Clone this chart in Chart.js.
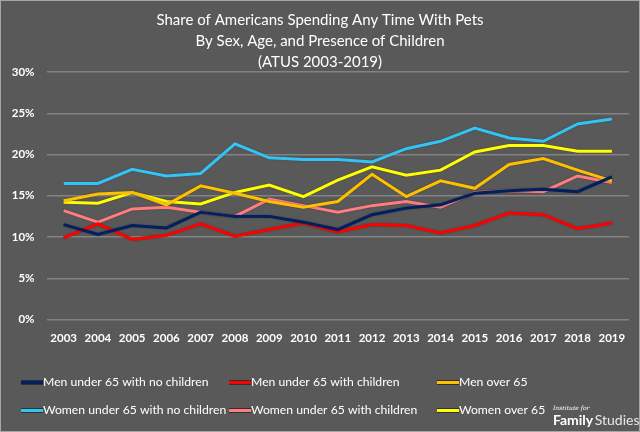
<!DOCTYPE html>
<html>
<head>
<meta charset="utf-8">
<script src="https://cdn.jsdelivr.net/npm/chart.js@4.4.1/dist/chart.umd.min.js"></script>
<style>
  html, body { margin: 0; padding: 0; background: #595959; }
  #wrap { width: 640px; height: 432px; position: relative; }
</style>
</head>
<body>
<div id="wrap"><canvas id="graph_ID" width="640" height="432"></canvas></div>
<script>
    var years = ['2003','2004','2005','2006','2007','2008','2009','2010','2011','2012','2013','2014','2015','2016','2017','2018','2019'];

    var menNoKids    = [11.5, 10.3, 11.4, 11.1, 13.0, 12.5, 12.5, 11.8, 10.9, 12.7, 13.5, 13.9, 15.3, 15.6, 15.8, 15.5, 17.3];
    var menKids      = [9.9, 11.6, 9.7, 10.2, 11.6, 10.1, 10.9, 11.7, 10.6, 11.5, 11.4, 10.5, 11.4, 12.9, 12.7, 11.0, 11.7];
    var menOver65    = [14.4, 15.2, 15.4, 13.9, 16.2, 15.3, 14.3, 13.6, 14.3, 17.6, 14.9, 16.8, 15.9, 18.8, 19.5, 18.1, 16.8];
    var womenNoKids  = [16.5, 16.5, 18.2, 17.4, 17.7, 21.3, 19.6, 19.4, 19.4, 19.1, 20.7, 21.6, 23.2, 22.0, 21.6, 23.7, 24.3];
    var womenKids    = [13.2, 11.8, 13.4, 13.6, 13.0, 12.5, 14.6, 13.8, 13.0, 13.8, 14.3, 13.6, 15.4, 15.6, 15.5, 17.4, 16.6];
    var womenOver65  = [14.2, 14.1, 15.4, 14.3, 14.0, 15.4, 16.3, 14.9, 16.9, 18.5, 17.5, 18.1, 20.3, 21.1, 21.1, 20.4, 20.4];

    var seriesNames = ['Men under 65 with no children', 'Men under 65 with children', 'Men over 65',
                       'Women under 65 with no children', 'Women under 65 with children', 'Women over 65'];
    var yTicks = [0, 5, 10, 15, 20, 25, 30];
    var titleLines = ['Share of Americans Spending Any Time With Pets', 'By Sex, Age, and Presence of Children', '(ATUS 2003-2019)'];

    var FONT = 'Lato, "Open Sans", sans-serif';

    function getLine(label, data, color)
    {
        return {
            label: label,
            data: data,
            borderColor: color,
            backgroundColor: color,
            borderWidth: 3,
            pointRadius: 0,
            tension: 0,
            fill: false
        };
    }

    // title, frame, 2-row legend and logo drawn by hand
    var decor = {
        id: 'decor',
        beforeDraw: function (chart) {
            var c = chart.ctx;
            c.save();
            c.fillStyle = '#595959';
            c.fillRect(0, 0, chart.width, chart.height);
            c.restore();
        },
        beforeDatasetsDraw: function (chart) {
            chart.ctx.save();
            chart.ctx.shadowColor = 'rgba(0,0,0,0.35)';
            chart.ctx.shadowBlur = 1.5;
        },
        afterDatasetsDraw: function (chart) {
            chart.ctx.restore();
        },
        afterDraw: function (chart) {
            var c = chart.ctx;
            c.save();
            c.strokeStyle = '#a6a6a6';
            c.lineWidth = 1;
            c.strokeRect(0.5, 0.5, chart.width - 1, chart.height - 1);

            c.fillStyle = '#ffffff';
            c.textAlign = 'center';
            c.textBaseline = 'middle';
            c.font = '15px ' + FONT;
            titleLines.forEach(function (t, i) {
                c.fillText(t, 320, 20.5 + i * 20.7);
            });

            var cols = [21, 229, 437];
            var rows = [382.5, 410.5];
            c.font = '12.2px ' + FONT;
            c.textAlign = 'left';
            chart.data.datasets.forEach(function (ds, i) {
                var x = cols[i % 3], y = rows[Math.floor(i / 3)];
                c.strokeStyle = 'rgba(0,0,0,0.45)';
                c.lineWidth = 5;
                c.beginPath(); c.moveTo(x, y); c.lineTo(x + 22, y); c.stroke();
                c.strokeStyle = ds.borderColor;
                c.lineWidth = 3;
                c.beginPath(); c.moveTo(x, y); c.lineTo(x + 22, y); c.stroke();
                c.fillStyle = '#ffffff';
                c.fillText(ds.label, x + 22, y);
            });

            // logo
            c.font = 'italic 6px "DejaVu Serif", serif';
            c.fillText('Institute for', 553, 408);
            c.font = 'bold 14px ' + FONT;
            c.fillText('Family', 553, 420);
            var w = c.measureText('Family').width;
            c.font = '14px ' + FONT;
            c.fillStyle = '#e8e8e8';
            c.fillText('Studies', 553 + w + 1.5, 420);
            c.restore();
        }
    };

    var ctx = document.getElementById('graph_ID').getContext('2d');
    var graphique = new Chart(ctx, {
        type: 'line',
        data: {
            labels: years,
            datasets: [
                getLine(seriesNames[0], menNoKids, '#002060'),
                getLine(seriesNames[1], menKids, '#ff0000'),
                getLine(seriesNames[2], menOver65, '#ffc000'),
                getLine(seriesNames[3], womenNoKids, '#33c4f5'),
                getLine(seriesNames[4], womenKids, '#ff7c80'),
                getLine(seriesNames[5], womenOver65, '#ffff00')
            ]
        },
        options: {
            responsive: false,
            animation: false,
            layout: { padding: { top: 72, right: 11, bottom: 0, left: 0 } },
            plugins: {
                legend: { display: false },
                title: { display: false },
                tooltip: { enabled: false }
            },
            scales: {
                x: {
                    offset: true,
                    grid: { display: false },
                    border: { display: false },
                    ticks: { color: '#ffffff', font: { family: FONT, size: 11.5, weight: 'bold' }, maxRotation: 0, autoSkip: false, padding: 4 },
                    afterFit: function (scale) { scale.height = 112.5; }
                },
                y: {
                    min: 0,
                    max: 30,
                    afterBuildTicks: function (scale) {
                        scale.ticks = yTicks.map(function (v) { return { value: v }; });
                    },
                    grid: { color: '#838383', lineWidth: 1.5, drawTicks: false },
                    border: { display: false },
                    ticks: {
                        color: '#ffffff',
                        font: { family: FONT, size: 11.5, weight: 'bold' },
                        padding: 12,
                        callback: function (v) { return v + '%'; }
                    },
                    afterFit: function (scale) { scale.width = 46.5; }
                }
            }
        },
        plugins: [decor]
    });
</script>
</body>
</html>
